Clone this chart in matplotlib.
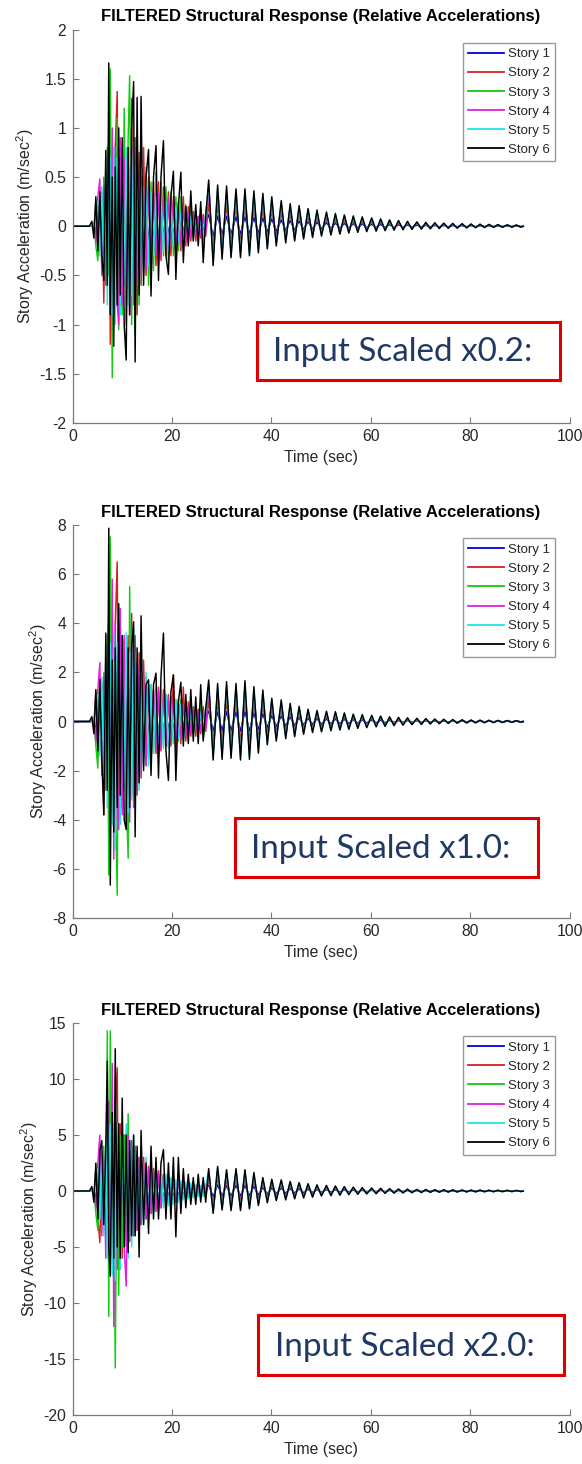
import numpy as np
import matplotlib
matplotlib.use("Agg")
import matplotlib.pyplot as plt
from matplotlib.patches import Rectangle

plt.rcParams['font.family'] = ['Liberation Sans', 'DejaVu Sans']
plt.rcParams['mathtext.fontset'] = 'custom'
plt.rcParams['mathtext.rm'] = 'Liberation Sans'
plt.rcParams['mathtext.it'] = 'Liberation Sans:italic'

# ---------------- data ----------------
story_labels = ["Story 1", "Story 2", "Story 3", "Story 4", "Story 5", "Story 6"]
story_colors = ["#0000e0", "#d82020", "#10cc10", "#e020e0", "#20e6e6", "#000000"]

title_text = "FILTERED Structural Response (Relative Accelerations)"
xlabel_text = "Time (sec)"
ylabel_text = "Story Acceleration (m/sec$^{2}$)"
xticks = [0, 20, 40, 60, 80, 100]
yticks_p1 = [-2, -1.5, -1, -0.5, 0, 0.5, 1, 1.5, 2]
yticks_p2 = [-8, -6, -4, -2, 0, 2, 4, 6, 8]
yticks_p3 = [-20, -15, -10, -5, 0, 5, 10, 15]
scale_labels = ["Input Scaled x0.2:", "Input Scaled x1.0:", "Input Scaled x2.0:"]

# times of the extrema in the strong-motion part (shared by all stories / panels)
early_t = [3.4, 3.9, 4.3, 4.7, 5.1, 5.5, 5.9, 6.3, 6.7, 7.0,
           7.3, 7.6, 8.0, 8.3, 8.6, 9.0, 9.3, 9.6, 10.0, 10.4,
           10.8, 11.2, 11.5, 11.9, 12.3, 12.6, 13.0, 13.4, 13.8, 14.3,
           14.8, 15.3, 15.8, 16.3, 16.8, 17.3, 17.8, 18.3, 18.8, 19.3,
           19.8, 20.3, 20.8, 21.3, 21.8, 22.3, 22.8, 23.3, 23.8, 24.3,
           24.8, 25.3, 25.8, 26.3, 26.8]

# panel 1 (x0.2) strong-motion extrema
p1_s1 = [0.0, 0.0, 0.02, -0.1, 0.2, -0.25, 0.3, -0.35, 0.3, -0.4, 0.45, -0.5, 0.4, -0.6, 0.5, -0.5, 0.6, -0.5, 0.55, -0.45,
         0.4, -0.5, 0.45, -0.4, 0.4, -0.35, 0.3, -0.3, 0.25, -0.25, 0.25, -0.2, 0.2, -0.2, 0.15, -0.15, 0.15, -0.12, 0.12, -0.1,
         0.1, -0.1, 0.08, -0.08, 0.08, -0.06, 0.06, -0.05, 0.05, -0.05, 0.05, -0.04, 0.04, -0.05, 0.04]
p1_s2 = [0.0, 0.0, -0.03, 0.25, -0.3, 0.2, 0.35, -0.78, 0.5, -0.4, 0.9, -1.2, 0.6, -0.7, 0.8, 1.37, -0.9, 0.7, -0.8, 0.6,
         -1.0, 0.8, -0.9, 1.3, -0.7, 0.9, -0.9, 0.75, -0.6, 0.8, -0.5, 0.5, -0.5, 0.45, -0.4, 0.45, -0.35, 0.4, -0.3, 0.35,
         -0.3, 0.3, -0.3, 0.25, -0.25, 0.3, -0.2, 0.2, -0.15, 0.15, -0.15, 0.1, -0.12, 0.12, -0.1]
p1_s3 = [0.0, 0.0, 0.03, -0.2, -0.35, 0.3, -0.4, 0.5, -0.3, 0.8, -0.5, 1.6, -1.54, 0.7, -0.6, 1.1, -1.05, 0.6, -0.9, 1.2,
         -0.6, 0.9, 1.53, -1.0, 0.7, -1.1, 0.6, -0.8, 0.5, -0.5, 0.6, -0.6, 0.45, -0.45, 0.55, -0.4, 0.45, -0.3, 0.4, -0.35,
         0.35, -0.3, 0.3, -0.25, 0.3, -0.2, 0.22, -0.15, 0.2, -0.12, 0.15, -0.15, 0.2, -0.25, 0.15]
p1_s4 = [0.0, 0.0, 0.02, -0.15, 0.3, 0.48, -0.5, 0.4, -0.6, 0.5, 0.9, -0.7, 1.0, -0.5, 0.8, -0.8, -1.0, 0.9, -0.8, 0.7,
         -0.7, 0.6, -0.9, 0.8, -0.8, 0.6, -0.6, 0.5, -0.5, 0.4, -0.45, 0.4, -0.35, 0.35, -0.3, 0.35, -0.3, 0.3, -0.25, 0.3,
         -0.2, 0.25, -0.2, 0.2, -0.2, 0.2, -0.15, 0.15, -0.12, 0.12, -0.1, 0.1, -0.1, 0.1, -0.08]
p1_s5 = [0.0, 0.0, -0.02, 0.2, 0.25, -0.3, 0.4, -0.5, 0.6, -0.8, 0.5, 0.7, -0.9, 0.8, -1.0, 0.7, 0.6, -0.9, 0.7, -0.6,
         0.8, -0.8, 0.6, -0.7, 0.9, -0.6, 0.5, -0.6, 0.4, -0.4, 0.45, -0.4, 0.35, -0.3, 0.3, -0.3, 0.3, -0.25, 0.25, -0.25,
         0.2, -0.2, 0.2, -0.15, 0.15, -0.15, 0.12, -0.1, 0.1, -0.1, 0.1, -0.08, 0.08, -0.1, 0.1]
p1_s6 = [0.0, 0.05, -0.12, 0.3, -0.25, 0.35, -0.3, -0.55, 0.77, -0.6, 1.66, -0.9, 0.5, -1.22, 0.6, -0.8, 1.0, -0.7, 0.9, -1.0,
         -1.36, 0.8, -0.9, 1.0, 1.47, -1.38, 1.31, -0.7, 1.32, -0.6, 0.5, 0.78, -0.71, 0.5, 0.82, -0.55, 0.5, 0.87, -0.3, -0.49,
         0.3, 0.56, -0.54, 0.2, 0.55, -0.37, 0.2, -0.2, 0.36, -0.15, 0.22, -0.2, 0.25, -0.37, 0.1]

# panel 2 (x1.0)
p2_s1 = [0.0, 0.0, 0.1, -0.5, 0.9, -1.1, 1.4, -1.6, 1.4, -1.9, 2.1, -2.3, 1.9, -2.8, 2.3, -2.3, 2.8, -2.3, 2.6, -2.1,
         1.9, -2.3, 2.1, -1.9, 1.9, -1.6, 1.4, -1.4, 1.2, -1.2, 1.2, -0.9, 0.9, -0.9, 0.7, -0.7, 0.7, -0.6, 0.6, -0.5,
         0.5, -0.5, 0.4, -0.4, 0.4, -0.3, 0.3, -0.25, 0.25, -0.25, 0.25, -0.2, 0.2, -0.25, 0.2]
p2_s2 = [0.0, 0.0, -0.1, 1.2, -1.5, 1.0, 1.6, -3.8, 2.5, -2.0, 4.4, -4.0, 3.0, -3.0, 4.0, 6.5, -4.0, 3.5, -3.5, 3.0,
         -4.0, 3.5, -3.5, 4.4, -3.0, 3.5, -3.0, 2.8, -2.3, 2.5, -1.8, 1.5, -1.5, 1.3, -1.3, 1.4, -1.2, 1.3, -1.0, 1.1,
         -1.0, 1.9, -1.2, 0.9, -0.9, 1.4, -0.8, 0.8, -0.6, 0.6, -0.6, 0.5, -0.5, 0.6, -0.4]
p2_s3 = [0.0, 0.0, 0.1, -1.0, -1.9, 1.5, -1.8, 2.0, -1.5, 3.5, -6.25, 7.52, -3.0, 3.0, -3.0, -7.07, 4.0, -3.0, 3.5, 3.0,
         -3.0, -5.57, 5.49, -3.0, 2.5, -3.0, 2.0, -2.0, 1.5, -1.5, 1.8, -1.5, 1.5, -1.3, 1.4, -1.2, 1.2, -1.0, 1.1, -1.0,
         1.0, -0.9, 0.9, -0.8, 0.9, -0.7, 0.8, -0.6, 0.7, -0.5, 0.6, -0.5, 0.8, -0.7, 0.5]
p2_s4 = [0.0, 0.0, 0.1, -0.8, 1.3, 2.4, -2.2, 1.8, -2.8, 2.2, 4.5, -3.5, 5.8, -5.6, 4.0, -4.0, -4.4, 4.6, -3.8, 3.5,
         -3.5, 3.0, -4.1, 3.7, -3.5, 2.8, -2.8, 2.3, -2.2, 1.8, -1.8, 1.5, -1.4, 1.3, -1.2, 1.3, -1.1, 1.1, -1.0, 1.0,
         -0.8, 0.9, -0.8, 0.8, -0.7, 0.7, -0.6, 0.6, -0.5, 0.5, -0.4, 0.4, -0.4, 0.4, -0.3]
p2_s5 = [0.0, 0.0, -0.1, 0.9, 1.1, -1.4, 1.8, -2.3, 2.6, -3.5, 2.2, 3.2, -4.2, 3.6, -5.2, 3.2, 2.8, -4.2, 3.2, -2.8,
         3.6, -3.7, 2.8, -3.2, 3.8, -2.8, 2.3, -2.8, 1.8, -1.8, 2.0, -1.8, 1.5, -1.3, 1.3, -1.3, 1.3, -1.1, 1.1, -1.1,
         0.9, -0.9, 0.9, -0.7, 0.7, -0.7, 0.5, -0.5, 0.5, -0.5, 0.5, -0.4, 0.4, -0.5, 0.5]
p2_s6 = [0.0, 0.2, -0.5, 1.3, -1.2, 1.7, -1.5, -3.8, 3.6, -2.8, 7.87, -6.66, 2.5, -4.5, 3.0, -3.5, 4.8, -3.0, 3.5, -4.0,
         -4.4, 3.0, -3.5, 3.0, 4.06, -4.7, 3.0, -2.5, 4.3, -2.0, 1.5, 1.7, -2.2, 1.5, 1.97, -2.3, 1.8, 3.6, -1.2, -2.4,
         1.2, 1.9, -2.4, 0.8, 1.6, -1.0, 1.1, -0.9, 1.3, -0.8, 1.0, -0.9, 1.5, -0.8, 0.5]

# panel 3 (x2.0)
p3_s1 = [0.0, 0.0, 0.2, -1.0, 1.5, -2.0, 2.5, -3.0, 2.5, -3.5, 4.0, -4.0, 3.5, -5.0, 4.0, -4.0, 4.5, -4.0, 4.0, -3.5,
         3.0, -3.5, 3.0, -3.0, 3.0, -2.5, 2.2, -2.2, 2.0, -1.8, 1.8, -1.5, 1.5, -1.3, 1.2, -1.2, 1.1, -1.0, 1.0, -0.8,
         0.8, -0.8, 0.7, -0.6, 0.6, -0.5, 0.5, -0.4, 0.4, -0.4, 0.4, -0.3, 0.3, -0.3, 0.3]
p3_s2 = [0.0, 0.0, -0.2, 2.0, -2.5, -4.6, 3.0, -3.5, 4.0, -4.0, 6.0, -5.0, 7.0, -6.0, 7.0, 11.0, -7.0, 6.0, -6.0, 5.0,
         -5.0, 5.0, -4.5, 4.5, -4.0, 4.0, -3.5, 3.0, -3.0, 3.0, -2.5, 2.2, -2.0, 2.0, -1.8, 1.8, -1.5, 1.5, -1.3, 1.3,
         -1.2, 1.2, -1.0, 1.0, -0.9, 0.9, -0.8, 0.8, -0.7, 0.6, -0.6, 0.5, -0.5, 0.5, -0.4]
p3_s3 = [0.0, 0.0, 0.2, -2.0, -3.5, 3.0, -3.0, 4.0, -4.0, 14.3, -11.2, 14.3, -6.0, 5.0, -15.8, 6.0, -9.3, 5.0, -5.0, 5.0,
         -4.0, 6.9, -4.0, 4.0, -3.5, 3.0, -3.0, 2.5, -2.5, 2.0, -2.0, 2.0, -1.8, 1.8, -1.5, 1.5, -1.5, 1.3, -1.3, 1.2,
         -1.0, 1.0, -1.0, 0.9, -0.8, 0.8, -0.7, 0.7, -0.6, 0.6, -0.5, 0.6, -0.5, 0.6, -0.4]
p3_s4 = [0.0, 0.0, 0.2, -1.5, 2.5, 5.0, -4.0, 3.0, -6.0, 5.0, 8.0, -6.0, 11.4, -12.1, 7.0, -7.0, 6.0, -7.0, 5.0, -5.0,
         -8.5, 5.0, -4.5, 4.0, -4.0, 3.5, -3.5, 3.0, -3.0, 2.5, -2.5, 2.0, -2.0, 1.8, -1.8, 1.6, -1.5, 1.4, -1.3, 1.2,
         -1.1, 1.0, -1.0, 0.9, -0.8, 0.8, -0.7, 0.7, -0.6, 0.6, -0.5, 0.5, -0.5, 0.5, -0.4]
p3_s5 = [0.0, 0.0, -0.2, 1.5, 2.0, -2.5, 3.5, -4.0, 4.5, -6.0, 4.0, 6.0, -7.5, 6.0, -8.0, 6.0, 5.0, -7.0, 5.0, -5.0,
         6.0, -6.0, 4.5, -5.0, 5.0, -4.0, 3.5, -4.0, 3.0, -3.0, 3.0, -2.5, 2.2, -2.0, 2.0, -1.8, 1.8, -1.5, 1.5, -1.3,
         1.2, -1.2, 1.0, -1.0, 0.9, -0.8, 0.8, -0.7, 0.7, -0.6, 0.6, -0.5, 0.5, -0.5, 0.5]
p3_s6 = [0.0, 0.4, -1.0, 2.5, -2.5, 3.5, 4.5, -3.0, 4.0, 11.6, -5.0, -7.6, 7.0, -6.0, 12.7, -5.0, 6.0, -6.0, 8.3, -5.0,
         5.0, -5.5, 4.5, -4.0, 5.0, -4.0, 4.0, -5.9, 5.4, -3.0, 2.5, -3.8, 4.0, -2.5, 3.0, -2.5, 2.5, 3.7, -2.5, 2.5,
         -2.5, 3.0, -4.1, 3.0, -2.0, 2.0, -1.5, 1.5, -1.2, 1.2, -1.2, 1.5, -1.0, 1.2, -1.0]

# free-vibration tail: times of alternating peaks / troughs (shared)
tail_t = [27.4, 28.3, 29.2, 30.1, 31.0, 31.9, 32.9, 33.8, 34.7, 35.6,
          36.5, 37.4, 38.3, 39.2, 40.1, 41.0, 42.0, 42.9, 43.8, 44.7,
          45.6, 46.5, 47.4, 48.3, 49.2, 50.1, 51.1, 52.0, 52.9, 53.8,
          54.7, 55.6, 56.5, 57.4, 58.3, 59.2, 60.2, 61.1, 62.0, 62.9,
          63.8, 64.7, 65.6, 66.5, 67.4, 68.3, 69.3, 70.2, 71.1, 72.0,
          72.9, 73.8, 74.7, 75.6, 76.5, 77.4, 78.4, 79.3, 80.2, 81.1,
          82.0, 82.9, 83.8, 84.7, 85.6, 86.5, 87.5, 88.4, 89.3, 90.2, 90.7]
# tail extrema of the top story (story 6)
tail_p1 = [0.47, -0.40, 0.42, -0.335, 0.41, -0.32, 0.38, -0.32, 0.38, -0.30, 0.36, -0.27, 0.335, -0.23, 0.30, -0.20,
           0.26, -0.17, 0.23, -0.15, 0.21, -0.13, 0.18, -0.115, 0.165, -0.10, 0.145, -0.09, 0.13, -0.08, 0.115, -0.07,
           0.105, -0.062, 0.095, -0.055, 0.085, -0.05, 0.075, -0.045, 0.065, -0.04, 0.058, -0.036, 0.05, -0.032,
           0.045, -0.029, 0.04, -0.026, 0.036, -0.023, 0.032, -0.021, 0.029, -0.019, 0.026, -0.017, 0.023, -0.015,
           0.021, -0.013, 0.019, -0.012, 0.017, -0.011, 0.015, -0.01, 0.013, -0.009, 0.0]
tail_p2 = [1.69, -1.57, 1.55, -1.54, 1.62, -1.50, 1.55, -1.57, 1.66, -1.54, 1.42, -1.29, 1.28, -0.95, 0.95, -0.80,
           0.88, -0.70, 0.74, -0.62, 0.62, -0.52, 0.50, -0.45, 0.45, -0.42, 0.42, -0.38, 0.40, -0.35, 0.35, -0.32,
           0.30, -0.28, 0.28, -0.25, 0.25, -0.22, 0.22, -0.20, 0.19, -0.17, 0.17, -0.15, 0.15, -0.13, 0.13, -0.12,
           0.12, -0.10, 0.10, -0.09, 0.09, -0.08, 0.08, -0.07, 0.07, -0.06, 0.06, -0.055, 0.055, -0.05, 0.05, -0.045,
           0.045, -0.04, 0.04, -0.035, 0.035, -0.03, 0.0]
tail_p3 = [2.0, -2.0, 2.2, -1.7, 1.9, -1.75, 2.0, -1.75, 1.9, -1.6, 1.65, -1.3, 1.2, -1.05, 1.05, -0.86,
           1.0, -0.8, 0.85, -0.7, 0.75, -0.62, 0.65, -0.55, 0.55, -0.45, 0.5, -0.42, 0.45, -0.38, 0.4, -0.33,
           0.35, -0.3, 0.3, -0.26, 0.27, -0.24, 0.24, -0.21, 0.21, -0.19, 0.18, -0.17, 0.16, -0.15, 0.14, -0.14,
           0.13, -0.12, 0.12, -0.11, 0.11, -0.1, 0.1, -0.09, 0.09, -0.085, 0.085, -0.08, 0.08, -0.07, 0.07, -0.065,
           0.065, -0.06, 0.06, -0.055, 0.05, -0.05, 0.0]
# relative tail amplitude of each story (fraction of story 6)
tail_ratio = [0.25, 0.5, 0.7, 0.82, 0.93, 1.0]

# ---------------- layout (pixels) ----------------
W, H = 582, 1464
AX_L, AX_R = 72.5, 569.5

panels = [
    dict(top=29.5, bot=423.0, ylim=(-2, 2), yticks=yticks_p1,
         early=[p1_s1, p1_s2, p1_s3, p1_s4, p1_s5, p1_s6], tail=tail_p1,
         box=(257, 322, 560, 380), tx=273, tw=259, tbase=361, label=scale_labels[0]),
    dict(top=525.0, bot=918.0, ylim=(-8, 8), yticks=yticks_p2,
         early=[p2_s1, p2_s2, p2_s3, p2_s4, p2_s5, p2_s6], tail=tail_p2,
         box=(235, 818, 538, 877), tx=251, tw=259, tbase=858, label=scale_labels[1]),
    dict(top=1023.0, bot=1415.0, ylim=(-20, 15), yticks=yticks_p3,
         early=[p3_s1, p3_s2, p3_s3, p3_s4, p3_s5, p3_s6], tail=tail_p3,
         box=(258, 1315, 564, 1375), tx=275, tw=260, tbase=1356, label=scale_labels[2]),
]

fig = plt.figure(figsize=(W / 100, H / 100), dpi=100)
fig.patch.set_facecolor('white')

spine_col = '#7a7a7a'
text_col = '#262626'
texts = []

for P in panels:
    ax = fig.add_axes([AX_L / W, 1 - P['bot'] / H, (AX_R - AX_L) / W, (P['bot'] - P['top']) / H])
    for k in range(6):
        t = np.concatenate([[0.0], early_t, tail_t])
        y = np.concatenate([[0.0], P['early'][k], np.asarray(P['tail']) * tail_ratio[k]])
        ax.plot(t, y, color=story_colors[k], lw=1.05, label=story_labels[k])
    ax.set_xlim(0, 100)
    ax.set_ylim(*P['ylim'])
    ax.set_xticks(xticks)
    ax.set_xticklabels([f"{v:g}" for v in xticks])
    ax.set_yticks(P['yticks'])
    ax.set_yticklabels([f"{v:g}" for v in P['yticks']])
    for s in ['top', 'right']:
        ax.spines[s].set_visible(False)
    for s in ['left', 'bottom']:
        ax.spines[s].set_color(spine_col)
        ax.spines[s].set_linewidth(0.9)
    ax.tick_params(direction='in', length=4, width=0.8, color=spine_col,
                   labelcolor=text_col, labelsize=11.3, pad=4.5)
    ax.set_title(title_text, fontsize=12, fontweight='bold', color='#000000', pad=6)
    ax.set_xlabel(xlabel_text, fontsize=11.3, color=text_col, labelpad=4)
    ax.set_ylabel(ylabel_text, fontsize=11.5, color=text_col, labelpad=2)
    leg = ax.legend(loc='upper right', bbox_to_anchor=(0.971, 0.966), borderaxespad=0,
                    fontsize=9.5, handlelength=2.7, handletextpad=0.3, labelspacing=0.52,
                    borderpad=0.4, frameon=True, fancybox=False, framealpha=1,
                    edgecolor='#9a9a9a')
    leg.get_frame().set_linewidth(1.0)
    for h in leg.legend_handles:
        h.set_linewidth(1.3)
    for txt in leg.get_texts():
        txt.set_color(text_col)

    x0, y0, x1, y1 = P['box']
    rect = Rectangle((x0 / W, 1 - y1 / H), (x1 - x0) / W, (y1 - y0) / H,
                     transform=fig.transFigure, facecolor='white', edgecolor='#e00000',
                     linewidth=2.2, zorder=10)
    fig.add_artist(rect)
    tx = fig.text(P['tx'] / W, 1 - P['tbase'] / H, P['label'], ha='left', va='baseline',
                  fontsize=21, color='#1f3864', family=['Lato', 'DejaVu Sans'], zorder=11)
    texts.append((tx, P['tw']))

fig.canvas.draw()
for tx, tw in texts:
    bb = tx.get_window_extent()
    tx.set_fontsize(tx.get_fontsize() * tw / bb.width)

fig.savefig("out.png", dpi=100, facecolor='white')
